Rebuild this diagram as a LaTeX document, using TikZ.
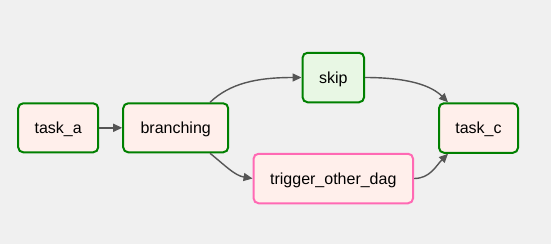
\documentclass[tikz,border=0pt]{standalone}
\usepackage{fontspec}
\setmainfont{Liberation Sans}
\usetikzlibrary{arrows.meta}
\definecolor{bg}{HTML}{F0F0F0}
\definecolor{okgreen}{HTML}{008000}
\definecolor{skippink}{HTML}{FF69B4}
\definecolor{opfill}{HTML}{FFEFEB}
\definecolor{dummyfill}{HTML}{E8F7E4}
\definecolor{edgegray}{HTML}{555555}
\tikzset{
  task/.style={draw=okgreen, line width=2pt, fill=opfill, rounded corners=5pt,
    minimum height=49pt, inner sep=0pt, font=\fontsize{16pt}{18pt}\selectfont, text=black,
    text height=15pt, text depth=3.5pt},
  pinkbox/.style={task, draw=skippink},
  dummybox/.style={task, fill=dummyfill},
  edge/.style={draw=edgegray, line width=1.4pt, -{Triangle[length=9pt,width=8pt]}}
}
\begin{document}
\begin{tikzpicture}[x=1pt,y=-1pt]
\fill[bg] (0,0) rectangle (551,244);
\useasboundingbox (0,0) rectangle (551,244);
\node[task, minimum width=80pt] (a) at (58.2,127.8) {task\_a};
\node[task, minimum width=105pt] (br) at (175.7,127.8) {branching};
\node[dummybox, minimum width=61.5pt, minimum height=49.5pt] (skip) at (333.3,77.5) {skip};
\node[task, minimum width=79pt, minimum height=49.5pt] (c) at (478.5,128) {task\_c};
\node[pinkbox, minimum width=159.5pt, minimum height=49.5pt] (trig) at (333.3,178.5) {trigger\_other\_dag};
\draw[edge] (a) -- (br);
\draw[edge] ([xshift=34.3pt]br.north) .. controls +(20,-19) and +(-45,0) .. (skip.west);
\draw[edge] (skip.east) .. controls +(45,0) and +(-16,-16) .. ([xshift=-30.5pt]c.north);
\draw[edge] ([xshift=34.3pt]br.south) .. controls +(15,12) and +(-18,-3) .. (trig.west);
\draw[edge] (trig.east) .. controls +(16,0) and +(-12,12) .. ([xshift=-30.5pt]c.south);
\end{tikzpicture}
\end{document}
